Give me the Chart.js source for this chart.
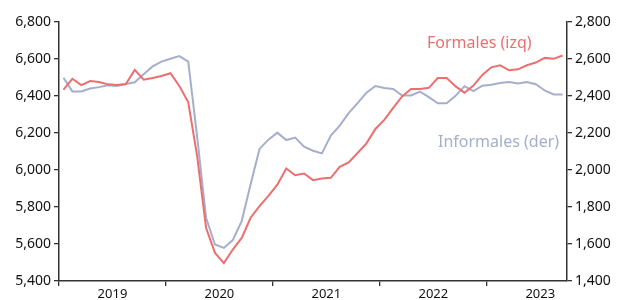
<!DOCTYPE html>
<html>
<head>
<meta charset="utf-8">
<script src="https://cdn.jsdelivr.net/npm/chart.js@4"></script>
<style>
  html, body { margin: 0; padding: 0; background: #fff; }
  #wrap { width: 628px; height: 300px; }
</style>
</head>
<body>
<div id="wrap"><canvas id="chart" width="628" height="300"></canvas></div>
<script>
// Data

var years = ['2019', '2020', '2021', '2022', '2023'];
var months = [];
for (var y = 0; y < years.length; y++) {
    for (var m = 1; m <= 12; m++) {
        if (years[y] === '2023' && m > 9) break;
        months.push(years[y] + '-' + (m < 10 ? '0' + m : m));
    }
}

var formales = [
    6434, 6493, 6459, 6481, 6476, 6463, 6459, 6465, 6541, 6488, 6497, 6508,
    6523, 6454, 6367, 6075, 5688, 5552, 5497, 5570, 5633, 5742, 5805, 5860,
    5921, 6008, 5972, 5981, 5945, 5954, 5958, 6017, 6041, 6092, 6144, 6222,
    6271, 6336, 6398, 6438, 6438, 6444, 6497, 6497, 6452, 6418, 6456, 6514,
    6555, 6566, 6539, 6544, 6566, 6581, 6606, 6601, 6619
];

var informales = [
    2499, 2425, 2425, 2440, 2448, 2458, 2454, 2465, 2474, 2518, 2560, 2586,
    2601, 2616, 2586, 2180, 1742, 1597, 1579, 1621, 1724, 1923, 2114, 2164,
    2202, 2162, 2175, 2126, 2104, 2090, 2186, 2240, 2307, 2361, 2418, 2454,
    2443, 2438, 2403, 2403, 2424, 2394, 2361, 2361, 2401, 2453, 2426, 2456,
    2461, 2470, 2476, 2467, 2476, 2464, 2430, 2408, 2408
];

var leftTicks = [5400, 5600, 5800, 6000, 6200, 6400, 6600, 6800];
var rightTicks = [1400, 1600, 1800, 2000, 2200, 2400, 2600, 2800];

var RED = '#ec6f6f';
var BLUE = '#a5afcc';
var AXIS = '#333333';
var FONT = '"Noto Sans", "DejaVu Sans", sans-serif';

function fmt(v) {
    return v.toLocaleString('en-US');
}

// series names written next to the lines
var seriesLabels = {
    id: 'seriesLabels',
    afterDatasetsDraw: function(chart) {
        var ctx = chart.ctx, a = chart.chartArea;
        ctx.save();
        ctx.font = '16px ' + FONT;
        ctx.textAlign = 'left';
        ctx.textBaseline = 'middle';
        ctx.fillStyle = RED;
        ctx.fillText('Formales (izq)', a.left + 368, a.top + 21);
        ctx.fillStyle = BLUE;
        ctx.fillText('Informales (der)', a.left + 379, a.top + 120);
        ctx.restore();
    }
};

var config = {
    type: 'line',
    data: {
        labels: months,
        datasets: [
            { label: 'Formales (izq)', data: formales, yAxisID: 'yL', borderColor: RED,
              borderWidth: 2, pointRadius: 0, tension: 0, fill: false },
            { label: 'Informales (der)', data: informales, yAxisID: 'yR', borderColor: BLUE,
              borderWidth: 2, pointRadius: 0, tension: 0, fill: false }
        ]
    },
    options: {
        responsive: false,
        animation: false,
        devicePixelRatio: 1,
        layout: { padding: { top: 22, left: 0, right: 0, bottom: 0 } },
        plugins: { legend: { display: false }, tooltip: { enabled: false } },
        scales: {
            x: {
                offset: true,
                grid: {
                    offset: true,
                    drawOnChartArea: false,
                    tickLength: 5,
                    lineWidth: 1.3,
                    color: function(c) { return c.index % 12 === 0 ? AXIS : 'rgba(0,0,0,0)'; }
                },
                border: { display: true, color: AXIS, width: 1.5 },
                ticks: {
                    autoSkip: false,
                    maxRotation: 0,
                    padding: 0,
                    labelOffset: -4.45,
                    color: '#111',
                    font: { family: FONT, size: 13 },
                    callback: function(v, i) {
                        var s = months[i];
                        return s.slice(5) === '07' ? s.slice(0, 4) : '';
                    }
                },
                afterFit: function(s) { s.height = 19; }
            },
            yL: {
                position: 'left',
                min: 5400, max: 6800,
                afterBuildTicks: function(s) { s.ticks = leftTicks.map(function(v) { return { value: v }; }); },
                grid: { drawOnChartArea: false, tickLength: 5, color: AXIS, lineWidth: 1.3 },
                border: { display: true, color: AXIS, width: 1.5 },
                ticks: { color: '#111', padding: 3, font: { family: FONT, size: 14 }, callback: fmt },
                afterFit: function(s) { s.width = 59; }
            },
            yR: {
                position: 'right',
                min: 1400, max: 2800,
                afterBuildTicks: function(s) { s.ticks = rightTicks.map(function(v) { return { value: v }; }); },
                grid: { drawOnChartArea: false, tickLength: 5, color: AXIS, lineWidth: 1.3 },
                border: { display: true, color: AXIS, width: 1.5 },
                ticks: { color: '#111', padding: 3, font: { family: FONT, size: 14 }, callback: fmt },
                afterFit: function(s) { s.width = 61; }
            }
        }
    },
    plugins: [seriesLabels]
};

var myChart = new Chart(document.getElementById('chart'), config);
</script>
</body>
</html>
